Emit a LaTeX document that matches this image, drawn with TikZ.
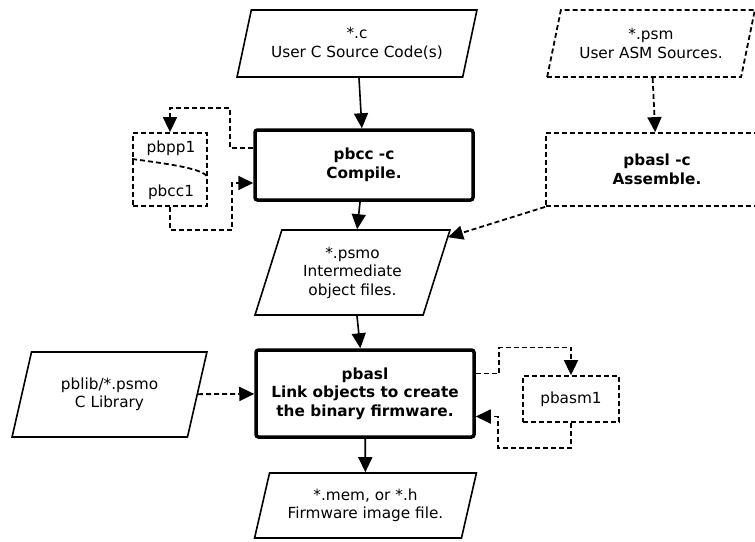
\documentclass[tikz,border=0pt]{standalone}
\usepackage{fontspec}
\setmainfont{DejaVu Sans}
\usetikzlibrary{shapes.geometric,arrows.meta}

\begin{document}
\begin{tikzpicture}[x=1pt,y=-1pt,
  every node/.style={font=\fontsize{15.3}{18.5}\selectfont,align=center,inner sep=0pt},
  file/.style={draw,line width=1.6pt,trapezium,trapezium left angle=70,trapezium right angle=110,trapezium stretches=true},
  tool/.style={draw,line width=3.5pt,rounded corners=2.5pt,font=\fontsize{15.3}{18.5}\selectfont\bfseries},
  opt/.style={draw,line width=1.8pt,dash pattern=on 5pt off 3pt},
  flow/.style={line width=1.6pt,-{Triangle[length=15pt,width=14pt]}},
  optflow/.style={flow,line width=1.8pt,dash pattern=on 5pt off 3pt}]
\useasboundingbox (0,0) rectangle (755,541);
\clip (0,0) rectangle (755,541);

% inputs and compile stage
\node[file,minimum width=240pt,minimum height=67pt] (csrc) at (357,43.5) {*.c\\User C Source Code(s)};
\node[file,opt,minimum width=208pt,minimum height=67pt] (asmsrc) at (651,43.5) {*.psm\\User ASM Sources.};
\node[tool,minimum width=218pt,minimum height=70pt] (compile) at (364,165) {pbcc -c\\Compile.};
\node[opt,font=\fontsize{15.3}{18.5}\selectfont\bfseries,minimum width=222pt,minimum height=73pt] (assemble) at (657,169.5) {pbasl -c\\Assemble.};

% helper programs called by pbcc
\node[opt,minimum width=74pt,minimum height=73pt] (tools) at (170,169.5) {};
\node (pbpp) at (171,148) {pbpp1};
\node (pbcc) at (171,192) {pbcc1};
\draw[opt] ([yshift=10.5pt]tools.west) .. controls +(45,6) and +(-6,-8) .. ([yshift=-7.5pt]tools.east);

% objects, link stage and output
\node[file,minimum width=195pt,minimum height=85pt] (psmo) at (352.5,272.5) {*.psmo\\Intermediate\\object files.};
\node[tool,minimum width=218pt,minimum height=87pt] (link) at (365,393.5) {pbasl\\Link objects to create\\the binary firmware.};
\node[file,minimum width=195pt,minimum height=85pt] (clib) at (109.5,394.5) {pblib/*.psmo\\C Library};
\node[opt,minimum width=96pt,minimum height=46pt] (pbasm) at (571,399) {pbasm1};
\node[file,minimum width=222pt,minimum height=65pt] (mem) at (365.5,505.5) {*.mem, or *.h\\Firmware image file.};

\draw[flow] (csrc) -- (compile);
\draw[flow] (compile) -- (psmo);
\draw[flow] (psmo) -- (link);
\draw[flow] (link) -- (mem);
\draw[optflow] (asmsrc) -- (assemble);
\draw[optflow] (clib) -- (link);
\draw[optflow] (assemble.south west) -- ([xshift=-3pt,yshift=-8pt]psmo.top right corner);

% loops out to the helpers and back
\draw[optflow] ([yshift=17pt]compile.west) -- ++(-23,0) -- ++(0,-40) -| (tools.north);
\draw[optflow] (tools.south) |- ++(62,23) |- ([yshift=-18pt]compile.west);
\draw[optflow] ([yshift=20pt]link.east) -- ++(23,0) -- ++(0,-26) -| (pbasm.north);
\draw[optflow] (pbasm.south) |- ++(-73,25) |- ([yshift=-23pt]link.east);
\end{tikzpicture}
\end{document}
